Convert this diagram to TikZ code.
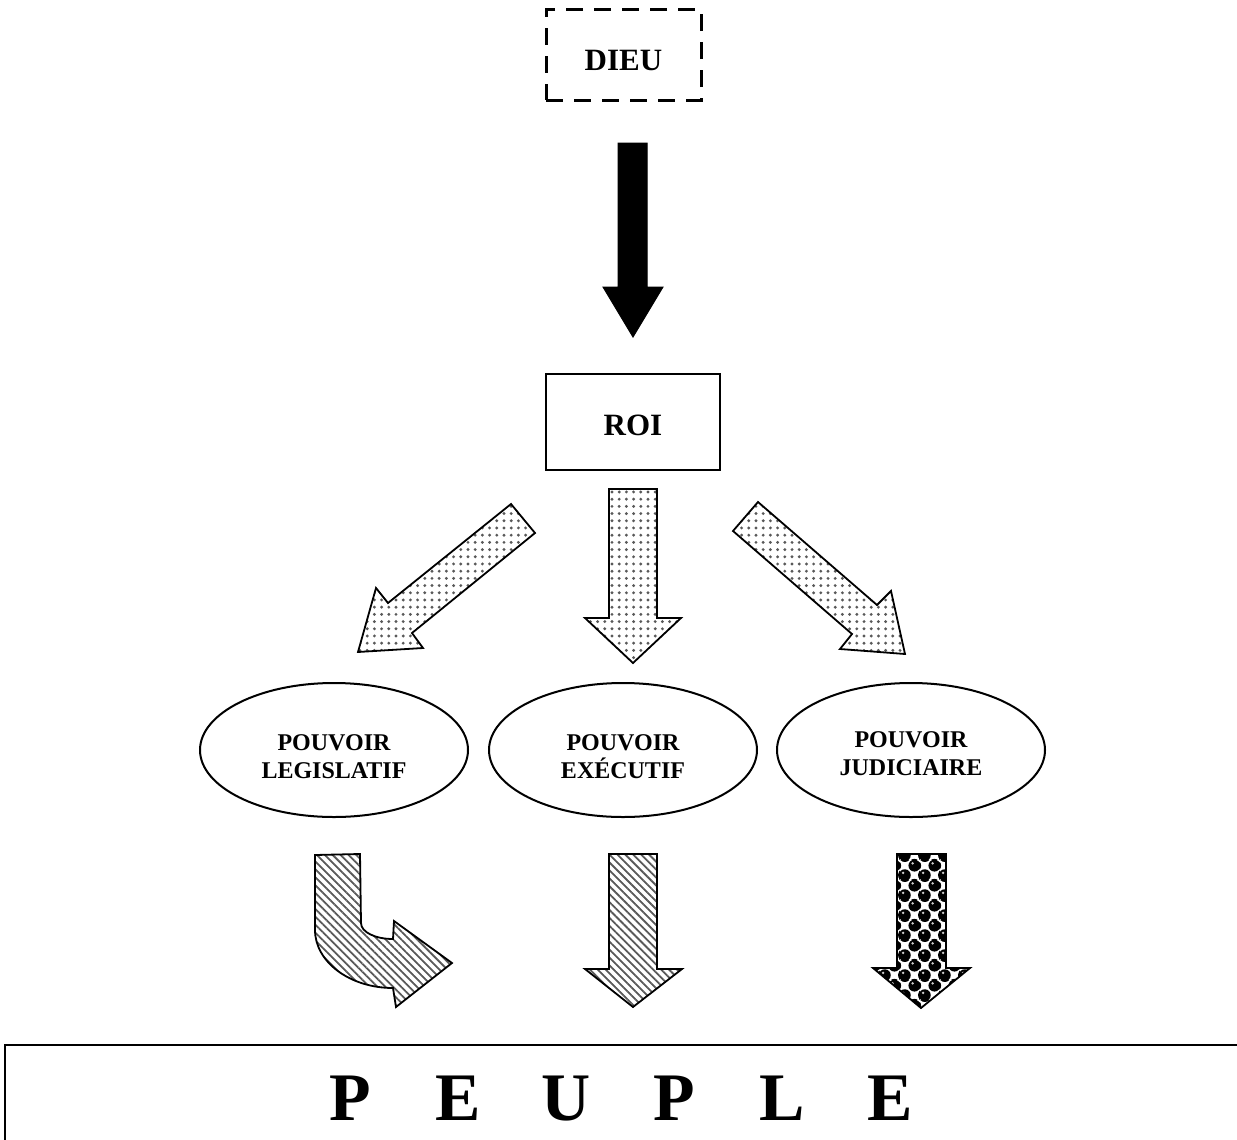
\documentclass[tikz,border=0pt]{standalone}
\usepackage{fontspec}
\setmainfont{Liberation Serif}
\usetikzlibrary{shapes.geometric,patterns.meta}

\tikzdeclarepattern{
  name=Balls,
  type=colored,
  bottom left={(0pt,0pt)},
  top right={(10pt,10pt)},
  tile size={(10pt,10pt)},
  code={
    \fill[white] (0pt,0pt) rectangle (10pt,10pt);
    \fill[black] (2.5pt,2.5pt) circle (3.1pt);
    \fill[black] (7.5pt,7.5pt) circle (3.1pt);
    \fill[black] (-2.5pt,7.5pt) circle (3.1pt);
    \fill[black] (12.5pt,2.5pt) circle (3.1pt);
    \fill[black] (7.5pt,-2.5pt) circle (3.1pt);
    \fill[black] (2.5pt,12.5pt) circle (3.1pt);
    \fill[white!80!black] (1.6pt,3.7pt) circle (0.7pt);
    \fill[white!80!black] (6.6pt,8.7pt) circle (0.7pt);
  }
}

\begin{document}
\begin{tikzpicture}[x=0.5pt,y=-0.5pt,
  dashbox/.style={draw, line width=1.5pt, dash pattern=on 8.5pt off 5.5pt,
    minimum width=77.5pt, minimum height=45.5pt, inner sep=0pt},
  plainbox/.style={draw, line width=1pt, minimum width=87pt, minimum height=48pt, inner sep=0pt},
  ell/.style={ellipse, draw, line width=1pt, minimum width=134pt, minimum height=67pt, inner sep=0pt},
  bigtxt/.style={font=\bfseries\fontsize{15.5}{18}\selectfont, inner sep=0pt},
  etxt/.style={font=\bfseries\fontsize{12}{14}\selectfont, align=center, inner sep=0pt},
  ptxt/.style={font=\bfseries\fontsize{34}{40}\selectfont, inner sep=0pt},
  blackarrow/.style={fill=black, draw=black, line width=0.5pt, line join=miter},
  dotarrow/.style={draw, line width=0.9pt, line join=miter,
    pattern={Dots[radius=0.8pt, distance=3.6pt]}, pattern color=black!65},
  hatcharrow/.style={draw, line width=0.9pt, line join=miter,
    pattern={Lines[angle=-45, distance=2.8pt, line width=0.9pt]}, pattern color=black!65},
  ballarrow/.style={draw, line width=0.9pt, line join=miter, pattern=Balls}
]
\fill[white] (0,0) rectangle (1237,1140);
\useasboundingbox (0,0) rectangle (1237,1140);

% DIEU
\node (dieu) [dashbox] at (623.5,54.5) {};
\node (dieutxt) [bigtxt] at ([yshift=-3pt]dieu.center) {DIEU};

% black arrow
\draw[blackarrow] (618,143) -- (647,143) -- (647,287) -- (663,287) -- (633,337)
  -- (603,287) -- (618,287) -- cycle;

% ROI
\node (roi) [plainbox] at (633,422) {};
\node (roitxt) [bigtxt] at ([yshift=-1.5pt]roi.center) {ROI};

% dotted arrows
\draw[dotarrow] (511,504) -- (535,533) -- (412,633) -- (423,648) -- (358,652)
  -- (376,588) -- (388,603) -- cycle;
\draw[dotarrow] (609,489) -- (657,489) -- (657,618) -- (681,618) -- (633,663)
  -- (585,618) -- (609,618) -- cycle;
\draw[dotarrow] (758,502) -- (733,531) -- (852,634) -- (840,649) -- (905,654)
  -- (891,591) -- (877,605) -- cycle;

% ellipses
\node (leg) [ell] at (334,750) {};
\node (legtxt) [etxt] at ([yshift=-3.5pt]leg.center) {POUVOIR\\LEGISLATIF};
\node (exe) [ell] at (623,750) {};
\node (exetxt) [etxt] at ([yshift=-3.5pt]exe.center) {POUVOIR\\EXÉCUTIF};
\node (jud) [ell] at (911,750) {};
\node (judtxt) [etxt] at ([yshift=-2pt]jud.center) {POUVOIR\\JUDICIAIRE};

% bottom arrows
\draw[hatcharrow] (315,855) -- (360,854) -- (361,923)
  .. controls (361,932) and (375,939) .. (393,939)
  -- (394,921) -- (452,963) -- (396,1007) -- (393,988)
  .. controls (350,988) and (315,962) .. (315,930) -- cycle;
\draw[hatcharrow] (609,854) -- (657,854) -- (657,969) -- (682,969) -- (633,1007)
  -- (585,969) -- (609,969) -- cycle;
\draw[ballarrow] (897,854) -- (946,854) -- (946,968) -- (970,968) -- (921,1008)
  -- (873,968) -- (897,968) -- cycle;

% PEUPLE
\node (peuple) [draw, line width=1pt, minimum width=622.5pt, minimum height=52.5pt, inner sep=0pt]
  at (627.5,1097.5) {};
\node (peupletxt) [ptxt] at (620.5,1099)
  {\makebox[54pt]{P}\makebox[54pt]{E}\makebox[54pt]{U}\makebox[54pt]{P}\makebox[54pt]{L}\makebox[54pt]{E}};
\end{tikzpicture}
\end{document}
